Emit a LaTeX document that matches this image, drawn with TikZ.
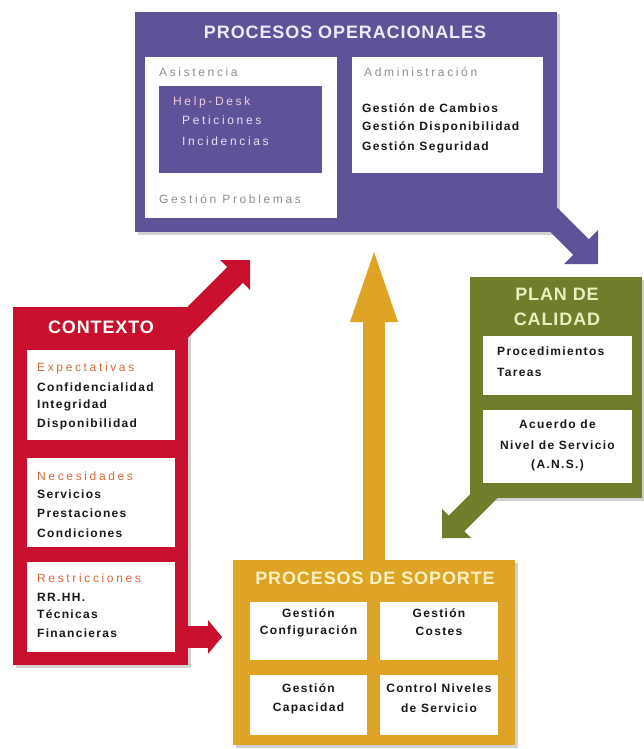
\documentclass[tikz,border=0pt]{standalone}
\usepackage{fontspec}
\setmainfont{Liberation Sans}
\newfontfamily\ttlfont[LetterSpace=5]{Liberation Sans}
\newfontfamily\bdyfont[LetterSpace=11]{Liberation Sans}
\newfontfamily\lgtfont[LetterSpace=22]{Liberation Sans}
\usetikzlibrary{shadows}
\definecolor{pur}{HTML}{5E5299}
\definecolor{redc}{HTML}{C8102E}
\definecolor{gold}{HTML}{DFA325}
\definecolor{olive}{HTML}{6E7E2A}
\definecolor{subred}{HTML}{D8683C}
\definecolor{gtxt}{HTML}{8E8E8E}
\definecolor{ptit}{HTML}{EEEAF6}
\definecolor{stit}{HTML}{FFF2C4}
\definecolor{ctit}{HTML}{E9F0BF}
\definecolor{hdpink}{HTML}{F2CCD8}
\definecolor{hdtxt}{HTML}{E6E2F4}
\begin{document}
\begin{tikzpicture}[x=1pt,y=-1pt,
  panel/.style={inner sep=0pt,outer sep=0pt,draw=none,
    drop shadow={shadow xshift=2.5pt,shadow yshift=-2.5pt,opacity=0.3,fill=black!60}},
  wbox/.style={fill=white,inner sep=0pt,outer sep=0pt,draw=none},
  ttl/.style={inner sep=0pt,font=\ttlfont\bfseries\fontsize{18}{21}\selectfont},
  bt/.style={inner sep=0pt,anchor=west,text=black!90,font=\bdyfont\bfseries\fontsize{12}{14}\selectfont},
  bc/.style={inner sep=0pt,text=black!90,font=\bdyfont\bfseries\fontsize{12}{14}\selectfont},
  lt/.style={inner sep=0pt,anchor=west,font=\lgtfont\fontsize{12}{14}\selectfont},
  shaft/.style={line width=22pt,line cap=butt,draw=#1}
]
\useasboundingbox (0,0) rectangle (644,749);

% ---------- panels ----------
\node[panel,fill=pur,minimum width=422pt,minimum height=220pt] (po) at (346,122) {};
\node[panel,fill=redc,minimum width=175pt,minimum height=358pt] (ctx) at (100.5,486) {};
\node[panel,fill=gold,minimum width=282pt,minimum height=185pt] (ps) at (374,652.5) {};
\node[panel,fill=olive,minimum width=172pt,minimum height=221pt] (pc) at (556,387.5) {};

% ---------- arrows ----------
% purple -> plan de calidad
\coordinate (poS) at (540,206);
\coordinate (poB) at (583,249);
\coordinate (poT) at (598,264);
\draw[shaft=pur] (poS) -- (poB);
\fill[pur] (poT) -- ++(0,-34) -- ++(-34,34) -- cycle;
% plan de calidad -> soporte
\coordinate (pcS) at (490,490);
\coordinate (pcB) at (453,527);
\coordinate (pcT) at (442,538);
\draw[shaft=olive] (pcS) -- (pcB);
\fill[olive] (pcT) -- ++(0,-29) -- ++(29,29) -- cycle;
% soporte -> operacionales
\coordinate (psS) at (374,562);
\coordinate (psB) at (374,318);
\coordinate (psT) at (374,252);
\draw[shaft=gold] (psS) -- (psB);
\fill[gold] (psT) -- (350,322) -- (398,322) -- cycle;
% contexto -> operacionales
\coordinate (cuS) at (180,330);
\coordinate (cuB) at (238,272);
\coordinate (cuT) at (250,260);
\draw[shaft=redc] (cuS) -- (cuB);
\fill[redc] (cuT) -- ++(-30,0) -- ++(30,30) -- cycle;
% contexto -> soporte
\coordinate (clS) at (180,637);
\coordinate (clB) at (211,637);
\coordinate (clT) at (222,637);
\draw[shaft=redc] (clS) -- (clB);
\fill[redc] (clT) -- ++(-14,-17) -- ++(0,34) -- cycle;

% ---------- PROCESOS OPERACIONALES ----------
\node[ttl,text=ptit] (poTitle) at (345,32) {PROCESOS OPERACIONALES};
\node[wbox,minimum width=192pt,minimum height=161pt] (asis) at (241,137.5) {};
\node[fill=pur,inner sep=0pt,minimum width=163pt,minimum height=87pt] (hd) at (240.5,129.5) {};
\node[wbox,minimum width=191pt,minimum height=116pt] (adm) at (447.5,115) {};
\node[lt,text=gtxt] (asisT) at (159,72) {Asistencia};
\node[lt,text=hdpink] (hd1) at (173,102) {Help-Desk};
\node[lt,text=hdtxt] (hd2) at (182,120) {Peticiones};
\node[lt,text=hdtxt] (hd3) at (182,141) {Incidencias};
\node[lt,text=gtxt] (gp) at (159,199) {Gestión Problemas};
\node[lt,text=gtxt] (admT) at (364,72) {Administración};
\node[bt] (a1) at (362,108) {Gestión de Cambios};
\node[bt] (a2) at (362,127) {Gestión Disponibilidad};
\node[bt] (a3) at (362,147) {Gestión Seguridad};

% ---------- CONTEXTO ----------
\node[ttl,text=white] (ctxTitle) at (101,327) {CONTEXTO};
\node[wbox,minimum width=148pt,minimum height=90pt] (exp) at (101,395) {};
\node[wbox,minimum width=148pt,minimum height=89pt] (nec) at (101,502.5) {};
\node[wbox,minimum width=148pt,minimum height=90pt] (res) at (101,607) {};
\node[lt,text=subred] (e0) at (37,368) {Expectativas};
\node[bt] (e1) at (37,387) {Confidencialidad};
\node[bt] (e2) at (37,405) {Integridad};
\node[bt] (e3) at (37,424) {Disponibilidad};
\node[lt,text=subred] (n0) at (37,476) {Necesidades};
\node[bt] (n1) at (37,494) {Servicios};
\node[bt] (n2) at (37,513) {Prestaciones};
\node[bt] (n3) at (37,533) {Condiciones};
\node[lt,text=subred] (r0) at (37,578) {Restricciones};
\node[bt] (r1) at (37,597) {RR.HH.};
\node[bt] (r2) at (37,614) {Técnicas};
\node[bt] (r3) at (37,633) {Financieras};

% ---------- PROCESOS DE SOPORTE ----------
\node[ttl,text=stit] (psTitle) at (375,578) {PROCESOS DE SOPORTE};
\node[wbox,minimum width=117pt,minimum height=58pt] (gcf) at (308.5,631) {};
\node[wbox,minimum width=118pt,minimum height=58pt] (gco) at (439,631) {};
\node[wbox,minimum width=117pt,minimum height=60pt] (gca) at (308.5,705) {};
\node[wbox,minimum width=118pt,minimum height=60pt] (cns) at (439,705) {};
\node[bc] (gcf1) at (308.5,613) {Gestión};
\node[bc] (gcf2) at (308.5,631) {Configuración};
\node[bc] (gco1) at (439,613) {Gestión};
\node[bc] (gco2) at (439,631) {Costes};
\node[bc] (gca1) at (308.5,688) {Gestión};
\node[bc] (gca2) at (308.5,708) {Capacidad};
\node[bc] (cns1) at (439,688) {Control Niveles};
\node[bc] (cns2) at (439,708) {de Servicio};

% ---------- PLAN DE CALIDAD ----------
\node[ttl,text=ctit] (pcT1) at (557,294) {PLAN DE};
\node[ttl,text=ctit] (pcT2) at (557,319) {CALIDAD};
\node[wbox,minimum width=149pt,minimum height=59pt] (proc) at (557.5,365.5) {};
\node[wbox,minimum width=149pt,minimum height=73pt] (ans) at (557.5,446.5) {};
\node[bt] (p1) at (497,351) {Procedimientos};
\node[bt] (p2) at (497,372) {Tareas};
\node[bc] (ans1) at (557.5,424) {Acuerdo de};
\node[bc] (ans2) at (557.5,445) {Nivel de Servicio};
\node[bc] (ans3) at (557.5,465) {(A.N.S.)};
\end{tikzpicture}
\end{document}
